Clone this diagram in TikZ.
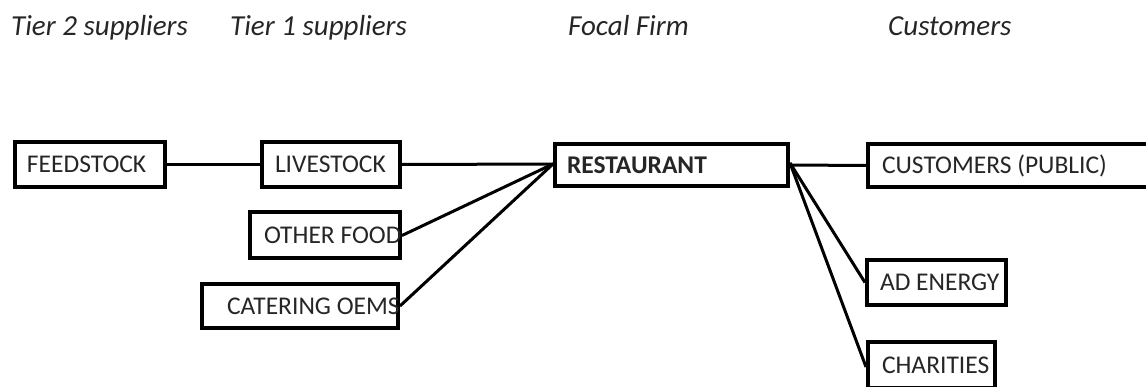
\documentclass[tikz,border=0pt]{standalone}
\usepackage{fontspec}
\setmainfont{Carlito}
\begin{document}
\begin{tikzpicture}[x=1pt,y=-1pt,
  box/.style={draw=black, line width=4pt, inner sep=0pt, fill=white,
    font=\fontsize{25.5}{28}\selectfont, text=black!85},
  link/.style={draw=black, line width=3pt},
  head/.style={anchor=base west, inner sep=0pt,
    font=\fontsize{29}{32}\selectfont\itshape, text=black!85}]
% box content: fixed width, text set flush left after a gap
\newcommand{\bxtext}[3]{\makebox[#1pt][l]{\hspace*{#2pt}#3}}
\useasboundingbox (0,0) rectangle (1146,387);
\begin{scope}
\clip (0,0) rectangle (1146,387);
% column headings
\node[head] (h2) at (11,36) {Tier 2 suppliers};
\node[head] (h1) at (230,36) {Tier 1 suppliers};
\node[head] (hf) at (568,36) {Focal Firm};
\node[head] (hc) at (888,36) {Customers};
% boxes
\node[box, minimum height=45pt] (feed) at (90,164.5) {\bxtext{150}{12}{FEEDSTOCK}};
\node[box, minimum height=45pt] (live) at (331,164.5) {\bxtext{138}{13}{LIVESTOCK}};
\node[box, minimum height=46pt] (other) at (325,235.5) {\bxtext{150}{14}{OTHER FOOD}};
\node[box, minimum height=44pt] (cater) at (300,306) {\bxtext{196}{25}{CATERING OEMS}};
\node[box, minimum height=42pt] (rest) at (671.5,165) {\bxtext{233}{12}{\bfseries RESTAURANT}};
\node[box, minimum height=43pt] (cust) at (1010,165.5) {\bxtext{284}{14}{CUSTOMERS (PUBLIC)}};
\node[box, minimum height=45pt] (ad) at (936.5,282.5) {\bxtext{139}{13}{AD ENERGY}};
\node[box, minimum height=46pt] (char) at (931.5,365) {\bxtext{127}{14}{CHARITIES}};
% connectors
\coordinate (rin) at ([yshift=1pt]rest.west);
\coordinate (rout) at ([yshift=2pt]rest.east);
\draw[link] (feed.east) -- (live.west);
\draw[link] (live.east) -- (rin);
\draw[link] (other.east) -- (rin);
\draw[link] (cater.east) -- (rin);
\draw[link] (rest.east) -- (cust.west);
\draw[link] (rout) -- (ad.west);
\draw[link] (rout) -- ([yshift=-2pt]char.west);
\end{scope}
\end{tikzpicture}
\end{document}
